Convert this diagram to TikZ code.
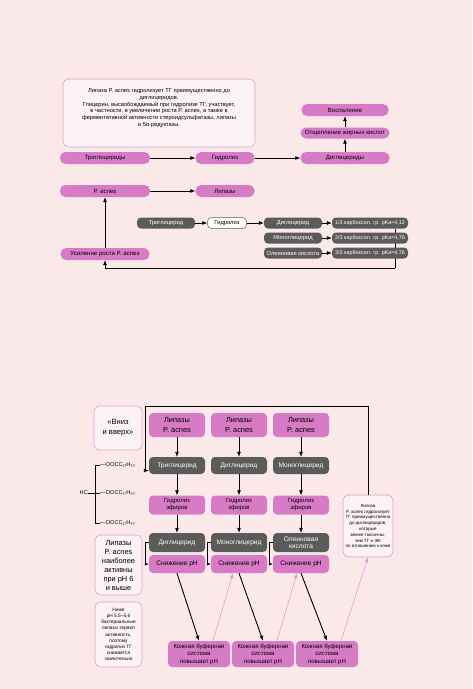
\documentclass[tikz,border=0pt]{standalone}
\usepackage{fontspec}
\setmainfont{Liberation Sans}
\usetikzlibrary{arrows.meta,calc}
\pgfdeclarelayer{bgl}
\pgfdeclarelayer{behind}
\pgfsetlayers{bgl,behind,main}
\definecolor{bgc}{HTML}{FBE9EA}
\definecolor{pk}{HTML}{D87BC6}
\definecolor{gr}{HTML}{5B5B5B}
\definecolor{nfill}{HTML}{FDF3F6}
\definecolor{nbord}{HTML}{D9A0CF}
\definecolor{pkline}{HTML}{E59AD6}
\newcommand\myfs[2]{\fontsize{#1}{#2}\selectfont}
\tikzset{
  pill/.style={fill=pk, rounded corners=5.5pt, minimum height=12pt, inner sep=0pt, align=center, font=\myfs{6.1}{6.8}},
  gbox/.style={fill=gr, text=white, rounded corners=4pt, minimum height=11pt, inner sep=0pt, align=center, font=\myfs{5.8}{6.4}},
  wbox/.style={fill=white, draw=gr, line width=0.5pt, rounded corners=4pt, minimum height=11pt, inner sep=0pt, align=center, font=\myfs{5.8}{6.4}},
  note/.style={fill=nfill, draw=nbord, line width=0.6pt, rounded corners=6pt, inner sep=1pt, align=center},
  bpill/.style={fill=pk, rounded corners=4pt, minimum width=56pt, inner sep=0pt, align=center},
  bgray/.style={fill=gr, text=white, rounded corners=4pt, minimum width=56pt, inner sep=0pt, align=center, font=\myfs{6.6}{7.4}},
  kbox/.style={fill=pk, rounded corners=4pt, minimum width=62pt, minimum height=26pt, inner sep=0pt, align=center, font=\myfs{6.1}{7.6}},
  arr/.style={-{Latex[length=5pt,width=4pt]}, line width=0.7pt, black},
  sarr/.style={-{Latex[length=4pt,width=3.5pt]}, line width=0.6pt, black},
  parr/.style={-{Latex[length=5pt,width=4pt]}, line width=0.6pt, pkline},
  slab/.style={inner sep=0pt, anchor=west, font=\myfs{5.6}{6}}
}
\begin{document}
\begin{tikzpicture}[x=1pt,y=-1pt]
\begin{pgfonlayer}{bgl}
\fill[bgc] (0,0) rectangle (472,689);
\end{pgfonlayer}
\useasboundingbox (0,0) rectangle (472,689);

% ---------- top panel ----------
\node[note, minimum width=192pt, minimum height=68pt, font=\myfs{5.7}{6.8}] (info) at (159,113)
 {Липаза P. acnes гидролизует ТГ преимущественно до\\диглицеридов.\\Глицерин, высвобождаемый при гидролизе ТГ, участвует,\\в частности, в увеличении роста P. acnes, а также в\\ферментативной активности стероидсульфатазы, липазы\\и 5α-редуктазы.\\[4pt]};

\node[pill, minimum width=90pt] (trig) at (105,158) {Триглицериды};
\node[pill, minimum width=59pt] (gidr) at (225,158) {Гидролиз};
\node[pill, minimum width=89pt] (digl) at (345,158) {Диглицериды};
\node[pill, minimum width=89pt, minimum height=11pt] (otsh) at (345,133) {Отщепление жирных кислот};
\node[pill, minimum width=87pt] (vosp) at (345,110) {Воспаление};
\node[pill, minimum width=90pt] (pacn) at (105,191) {P. acnes};
\node[pill, minimum width=59pt] (lip) at (225,191) {Липазы};

\draw[arr] (trig) -- (gidr);
\draw[arr] (gidr) -- (digl);
\draw[arr] (digl) -- (otsh);
\draw[arr] (otsh) -- (vosp);
\draw[arr] (pacn) -- (lip);

\node[gbox, minimum width=58pt] (g1) at (166,223) {Триглицерид};
\node[wbox, minimum width=39pt] (wh) at (227,223) {Гидролиз};
\node[gbox, minimum width=58pt] (g2a) at (293,223) {Диглицерид};
\node[gbox, minimum width=58pt] (g2b) at (293,238) {Моноглицерид};
\node[gbox, minimum width=58pt] (g2c) at (293,253) {Олеиновая кислота};
\node[gbox, minimum width=76pt, font=\myfs{5.4}{6}] (r1) at (370,223) {1/3 карбоксил. гр. pKa≈4,12};
\node[gbox, minimum width=76pt, font=\myfs{5.4}{6}] (r2) at (370,238) {2/3 карбоксил. гр. pKa≈4,76};
\node[gbox, minimum width=76pt, font=\myfs{5.4}{6}] (r3) at (370,253) {3/3 карбоксил. гр. pKa≈4,76};
\node[pill, minimum width=89pt] (ros) at (105,254) {Усиление роста P. acnes};

\draw[arr] (g1) -- (wh);
\draw[arr] (wh) -- (g2a);
\draw[arr] (g2a) -- (r1);
\draw[arr] (g2b) -- (r2);
\draw[arr] (g2c) -- (r3);
\coordinate (rv) at (395,268);
\begin{pgfonlayer}{behind}
\draw[line width=0.7pt] ($(r1.south)+(25,0)$) -- (rv);
\end{pgfonlayer}
\draw[arr] (rv) -| (ros.south);
\draw[arr] (ros) -- (pacn);

% ---------- bottom panel ----------
\node[note, minimum width=48pt, minimum height=44pt, font=\myfs{7.6}{10}] (vv) at (118,428) {«Вниз\\и вверх»};

\node[bpill, minimum height=24pt, font=\myfs{7.4}{9.5}] (L1) at (177,425) {Липазы\\P. acnes};
\node[bpill, minimum height=24pt, font=\myfs{7.4}{9.5}] (L2) at (239,425) {Липазы\\P. acnes};
\node[bpill, minimum height=24pt, font=\myfs{7.4}{9.5}] (L3) at (301,425) {Липазы\\P. acnes};

\node[bgray, minimum height=17pt] (G1) at (177,465.5) {Триглицерид};
\node[bgray, minimum height=17pt] (G2) at (239,465.5) {Диглицерид};
\node[bgray, minimum height=17pt] (G3) at (301,465.5) {Моноглицерид};

\node[bpill, minimum height=19pt, font=\myfs{6}{7}] (H1) at (177,505) {Гидролиз\\эфиров};
\node[bpill, minimum height=19pt, font=\myfs{6}{7}] (H2) at (239,505) {Гидролиз\\эфиров};
\node[bpill, minimum height=19pt, font=\myfs{6}{7}] (H3) at (301,505) {Гидролиз\\эфиров};

\node[bgray, minimum height=19pt] (D1) at (177,542.5) {Диглицерид};
\node[bgray, minimum height=19pt] (D2) at (239,542.5) {Моноглицерид};
\node[bgray, minimum height=19pt] (D3) at (301,542.5) {Олеиновая\\кислота};

\node[bpill, minimum height=18pt, font=\myfs{6.6}{7}] (S1) at (177,564) {Снижение pH};
\node[bpill, minimum height=18pt, font=\myfs{6.6}{7}] (S2) at (239,564) {Снижение pH};
\node[bpill, minimum height=18pt, font=\myfs{6.6}{7}] (S3) at (301,564) {Снижение pH};

\foreach \c in {1,2,3}{
  \draw[arr] (L\c) -- (G\c);
  \draw[arr] (G\c) -- (H\c);
  \draw[arr] (H\c) -- (D\c);
  \draw[sarr] (D\c.west) -- ++(-4,0) |- (S\c.west);
}

\node[kbox] (K1) at (199,654) {Кожная буферная\\система\\повышает pH};
\node[kbox] (K2) at (263,654) {Кожная буферная\\система\\повышает pH};
\node[kbox] (K3) at (327,654) {Кожная буферная\\система\\повышает pH};

\node[note, minimum width=47pt, minimum height=60pt, font=\myfs{7.4}{9}] (side1) at (118.5,565) {Липазы\\P. acnes\\наиболее\\активны\\при pH 6\\и выше};
\node[note, minimum width=47pt, minimum height=65pt, font=\myfs{4.8}{6.2}] (side2) at (118.5,634.5) {Ниже\\pH 5,5–5,6\\бактериальные\\липазы теряют\\активность,\\поэтому\\гидролиз ТГ\\снижается\\значительно};
\node[note, minimum width=50pt, minimum height=62pt, font=\myfs{4.5}{5.8}] (rbox) at (368,526) {Липаза\\P. acnes гидролизует\\ТГ преимущественно\\до диглицеридов,\\которые\\менее токсичны,\\чем ТГ и ЖК\\по отношению к коже};

\draw[arr, line width=0.9pt] (S1.south) -- (K1.north);
\draw[arr, line width=0.9pt] (S2.south) -- (K2.north);
\draw[arr, line width=0.9pt] (S3.south) -- (K3.north);
\draw[parr] ([xshift=14pt]K1.north) -- ([xshift=-6pt]S2.south);
\draw[parr] ([xshift=14pt]K2.north) -- ([xshift=-4pt]S3.south);
\draw[parr] ([xshift=14pt]K3.north) -- (rbox.south);

\coordinate (tl) at (145,406);
\draw[arr] (rbox.north) |- (tl) |- ([yshift=-5pt]G1.west);

% triglyceride structure labels
\node[slab] (t1) at (100,465) {—OOCC₁₇H₃₃};
\node[slab] (t2) at (100,493) {—OOCC₁₇H₃₃};
\node[slab] (t3) at (100,523) {—OOCC₁₇H₃₃};
\node[inner sep=0pt, anchor=east, font=\myfs{5.6}{6}] (hc) at (88,493) {HC};
\draw[line width=0.6pt] (t1.west) -- (95,465) -- (95,523) -- (t3.west);
\draw[line width=0.6pt] (hc.east) -- (t2.west);
\end{tikzpicture}
\end{document}
